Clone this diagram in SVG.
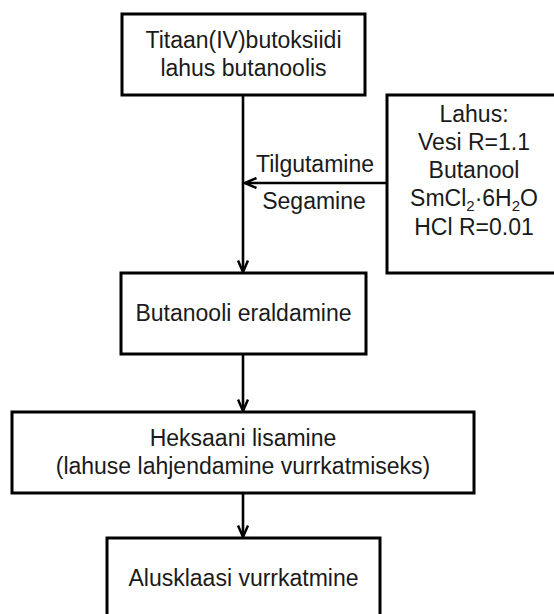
<svg xmlns="http://www.w3.org/2000/svg" width="554" height="614" viewBox="0 0 554 614">
<style>
.box{fill:#fff;stroke:#000;stroke-width:3}
.t{font-family:"Liberation Sans",Arial,sans-serif;font-size:23px;fill:#1a1a1a;text-anchor:middle}
.c{stroke:#000;stroke-width:2.6;fill:none}
.sub{font-size:15px}
</style>
<defs>
<marker id="ah" viewBox="0 0 14 12" refX="12.5" refY="6" markerWidth="14" markerHeight="12" markerUnits="userSpaceOnUse" orient="auto">
<path d="M1,1 L12.5,6 L1,11" fill="none" stroke="#000" stroke-width="2.5"/>
</marker>
</defs>
<rect width="554" height="614" fill="#fff"/>
<g id="connectors">
<line class="c" x1="243" y1="95" x2="243" y2="272" marker-end="url(#ah)"/>
<line class="c" x1="387" y1="183" x2="245" y2="183" marker-end="url(#ah)"/>
<line class="c" x1="243" y1="354" x2="243" y2="411" marker-end="url(#ah)"/>
<line class="c" x1="243" y1="493" x2="243" y2="537" marker-end="url(#ah)"/>
</g>
<g id="node-titaan">
<rect class="box" x="122" y="14" width="243" height="81"/>
<text class="t" x="243.5" y="48">Titaan(IV)butoksiidi</text>
<text class="t" x="243.5" y="76">lahus butanoolis</text>
</g>
<g id="node-lahus">
<rect class="box" x="387" y="95" width="176" height="178"/>
<text class="t" x="474" y="122">Lahus:</text>
<text class="t" x="474" y="150">Vesi R=1.1</text>
<text class="t" x="474" y="178">Butanool</text>
<text class="t" x="474" y="206">SmCl<tspan class="sub" dy="5">2</tspan><tspan dy="-5">·6H</tspan><tspan class="sub" dy="5">2</tspan><tspan dy="-5">O</tspan></text>
<text class="t" x="474" y="235">HCl R=0.01</text>
</g>
<g id="edge-labels">
<text class="t" x="315" y="172">Tilgutamine</text>
<text class="t" x="314" y="209">Segamine</text>
</g>
<g id="node-butanooli">
<rect class="box" x="121" y="273" width="245" height="81"/>
<text class="t" x="243.5" y="321">Butanooli eraldamine</text>
</g>
<g id="node-heksaani">
<rect class="box" x="12" y="412" width="462" height="81"/>
<text class="t" x="243" y="446">Heksaani lisamine</text>
<text class="t" x="243" y="474">(lahuse lahjendamine vurrkatmiseks)</text>
</g>
<g id="node-alusklaasi">
<rect class="box" x="107" y="538" width="273" height="90"/>
<text class="t" x="243.5" y="586">Alusklaasi vurrkatmine</text>
</g>
</svg>
